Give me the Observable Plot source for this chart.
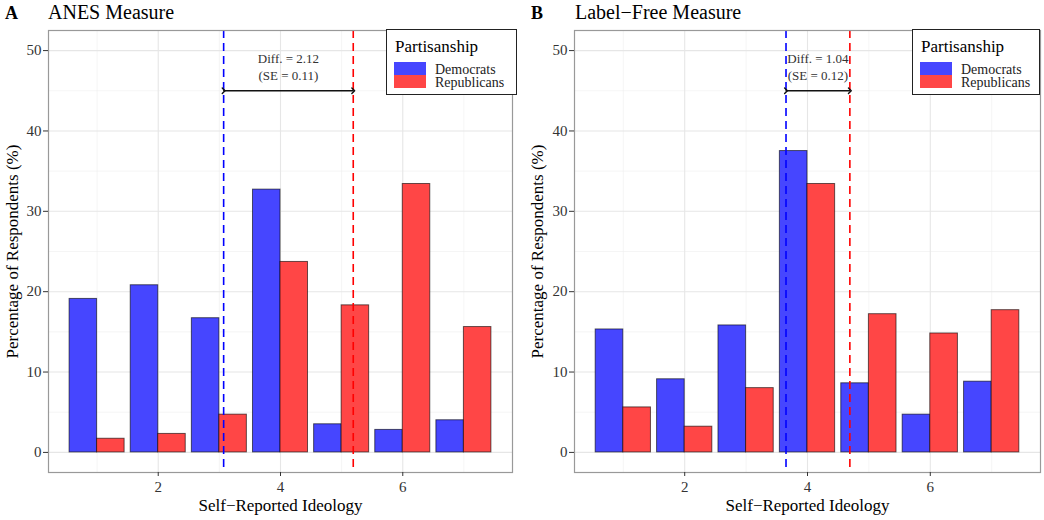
<!DOCTYPE html>
<html><head><meta charset="utf-8">
<script src="https://cdn.jsdelivr.net/npm/d3@7"></script>
<script src="https://cdn.jsdelivr.net/npm/@observablehq/plot@0.6"></script>
<style>
body{margin:0;background:#fff;font-family:"Liberation Serif",serif;}
#wrap{position:relative;width:1044px;height:520px;overflow:hidden;}
.panel{position:absolute;top:0;width:522px;height:520px;}
.panel svg{position:absolute;top:26px;left:0;}
.tag{position:absolute;top:3px;font-size:18px;font-weight:bold;color:#000;}
.ttl{position:absolute;top:1px;font-size:20px;color:#000;}
.legend{position:absolute;top:29px;height:66px;border:1.5px solid #222;background:#fff;box-sizing:border-box;}
.legend .lt{position:absolute;left:8px;top:7px;font-size:17px;color:#000;}
.legend .sw{position:absolute;width:32px;height:13px;}
.legend .lb{position:absolute;font-size:14px;line-height:13px;color:#222;}
</style>
</head><body><div id="wrap"></div>
<script>
// ---- data ----
const ideology = [1, 2, 3, 4, 5, 6, 7];
const anesDem = [19.1, 20.8, 16.7, 32.7, 3.5, 2.8, 4.0];
const anesRep = [1.7, 2.3, 4.7, 23.7, 18.3, 33.4, 15.6];
const freeDem = [15.3, 9.1, 15.8, 37.5, 8.6, 4.7, 8.8];
const freeRep = [5.6, 3.2, 8.0, 33.4, 17.2, 14.8, 17.7];
const anesMeans = [3.07, 5.19];   // Democrats, Republicans
const freeMeans = [3.65, 4.69];
const anesDiffLabels = ["Diff. = 2.12", "(SE = 0.11)"];
const freeDiffLabels = ["Diff. = 1.04", "(SE = 0.12)"];
const panelTags = ["A", "B"];
const panelTitles = ["ANES Measure", "Label\u2212Free Measure"];
const parties = ["Democrats", "Republicans"];
const yTicks = [0, 10, 20, 30, 40, 50];
const yMinor = [5, 15, 25, 35, 45];
const xTicks = [2, 4, 6];
const xMinor = [1, 3, 5, 7];
const xTitle = "Self\u2212Reported Ideology";
const yTitle = "Percentage of Respondents (%)";

const DEM = "#4646ff", REP = "#ff4646";
const wrap = document.getElementById("wrap");

function panel(idx, dem, rep, means, labels, opts) {
  const rows = [];
  ideology.forEach((x, i) => {
    rows.push({x, v: dem[i], p: parties[0]});
    rows.push({x, v: rep[i], p: parties[1]});
  });
  const mid = (means[0] + means[1]) / 2;
  const plot = Plot.plot({
    width: 522, height: 494,
    marginLeft: opts.ml, marginRight: opts.mr, marginTop: 4, marginBottom: 48,
    style: {fontFamily: "Liberation Serif, serif", fontSize: "15px", color: "#333", background: "white"},
    x: {type: "linear", domain: [0.205, 7.795]},
    y: {domain: [-2.5, 52.5]},
    marks: [
      Plot.gridY(yMinor, {stroke: "#efefef", strokeOpacity: 1, strokeWidth: 0.6}),
      Plot.gridX(xMinor, {stroke: "#efefef", strokeOpacity: 1, strokeWidth: 0.6}),
      Plot.gridY(yTicks, {stroke: "#e6e6e6", strokeOpacity: 1, strokeWidth: 1.1}),
      Plot.gridX(xTicks, {stroke: "#e6e6e6", strokeOpacity: 1, strokeWidth: 1.1}),
      Plot.rectY(rows.filter(d => d.p === parties[0]), {x1: d => d.x - 0.45, x2: d => d.x, y1: 0, y2: "v", fill: DEM, stroke: "#000", strokeOpacity: 0.6, strokeWidth: 1}),
      Plot.rectY(rows.filter(d => d.p === parties[1]), {x1: d => d.x, x2: d => d.x + 0.45, y1: 0, y2: "v", fill: REP, stroke: "#000", strokeOpacity: 0.6, strokeWidth: 1}),
      Plot.ruleX([means[0]], {stroke: "blue", strokeWidth: 1.6, strokeDasharray: "8,5"}),
      Plot.ruleX([means[1]], {stroke: "red", strokeWidth: 1.6, strokeDasharray: "8,5"}),
      Plot.line([[means[0], 45], [means[1], 45]], {stroke: "#111", strokeWidth: 1.4, markerStart: "arrow", markerEnd: "arrow"}),
      Plot.text([labels[0]], {x: mid, y: 49, text: d => d, fontSize: 13, fill: "#333"}),
      Plot.text([labels[1]], {x: mid, y: 46.8, text: d => d, fontSize: 13, fill: "#333"}),
      Plot.frame({stroke: "#999", strokeWidth: 1.2}),
      Plot.axisY(yTicks, {tickSize: 5, tickPadding: 2, fontSize: 15, label: null, stroke: "#333", fill: "#333"}),
      Plot.axisX(xTicks, {tickSize: 4, tickPadding: 5, fontSize: 15, label: null, stroke: "#333", fill: "#333"}),
      Plot.text([xTitle], {frameAnchor: "bottom", lineAnchor: "middle", textAnchor: "middle", dy: 33, text: d => d, fontSize: 17, fill: "#000"}),
      Plot.text([yTitle], {frameAnchor: "left", lineAnchor: "middle", textAnchor: "middle", dx: opts.ydx, rotate: -90, text: d => d, fontSize: 17, fill: "#000"})
    ]
  });
  const div = document.createElement("div");
  div.className = "panel";
  div.style.left = (idx * 522) + "px";
  div.appendChild(plot);
  const tag = document.createElement("div");
  tag.className = "tag"; tag.style.left = opts.tagX + "px"; tag.textContent = panelTags[idx];
  const ttl = document.createElement("div");
  ttl.className = "ttl"; ttl.style.left = opts.ttlX + "px"; ttl.textContent = panelTitles[idx];
  div.appendChild(tag); div.appendChild(ttl);
  // legend
  const lg = document.createElement("div");
  lg.className = "legend";
  lg.style.left = opts.lgX + "px"; lg.style.width = opts.lgW + "px";
  lg.innerHTML = `<div class="lt">Partisanship</div>
    <div class="sw" style="left:7px;top:32px;background:${DEM}"></div>
    <div class="sw" style="left:7px;top:45px;background:${REP}"></div>
    <div class="lb" style="left:${opts.lbX}px;top:33px">${parties[0]}</div>
    <div class="lb" style="left:${opts.lbX}px;top:46px">${parties[1]}</div>`;
  div.appendChild(lg);
  wrap.appendChild(div);
}

panel(0, anesDem, anesRep, anesMeans, anesDiffLabels, {ml: 48, mr: 10, ydx: -36, tagX: 5, ttlX: 48, lgX: 386, lgW: 131, lbX: 48});
panel(1, freeDem, freeRep, freeMeans, freeDiffLabels, {ml: 52, mr: 4, ydx: -37, tagX: 9, ttlX: 53, lgX: 390, lgW: 128, lbX: 48});
</script>
</body></html>
